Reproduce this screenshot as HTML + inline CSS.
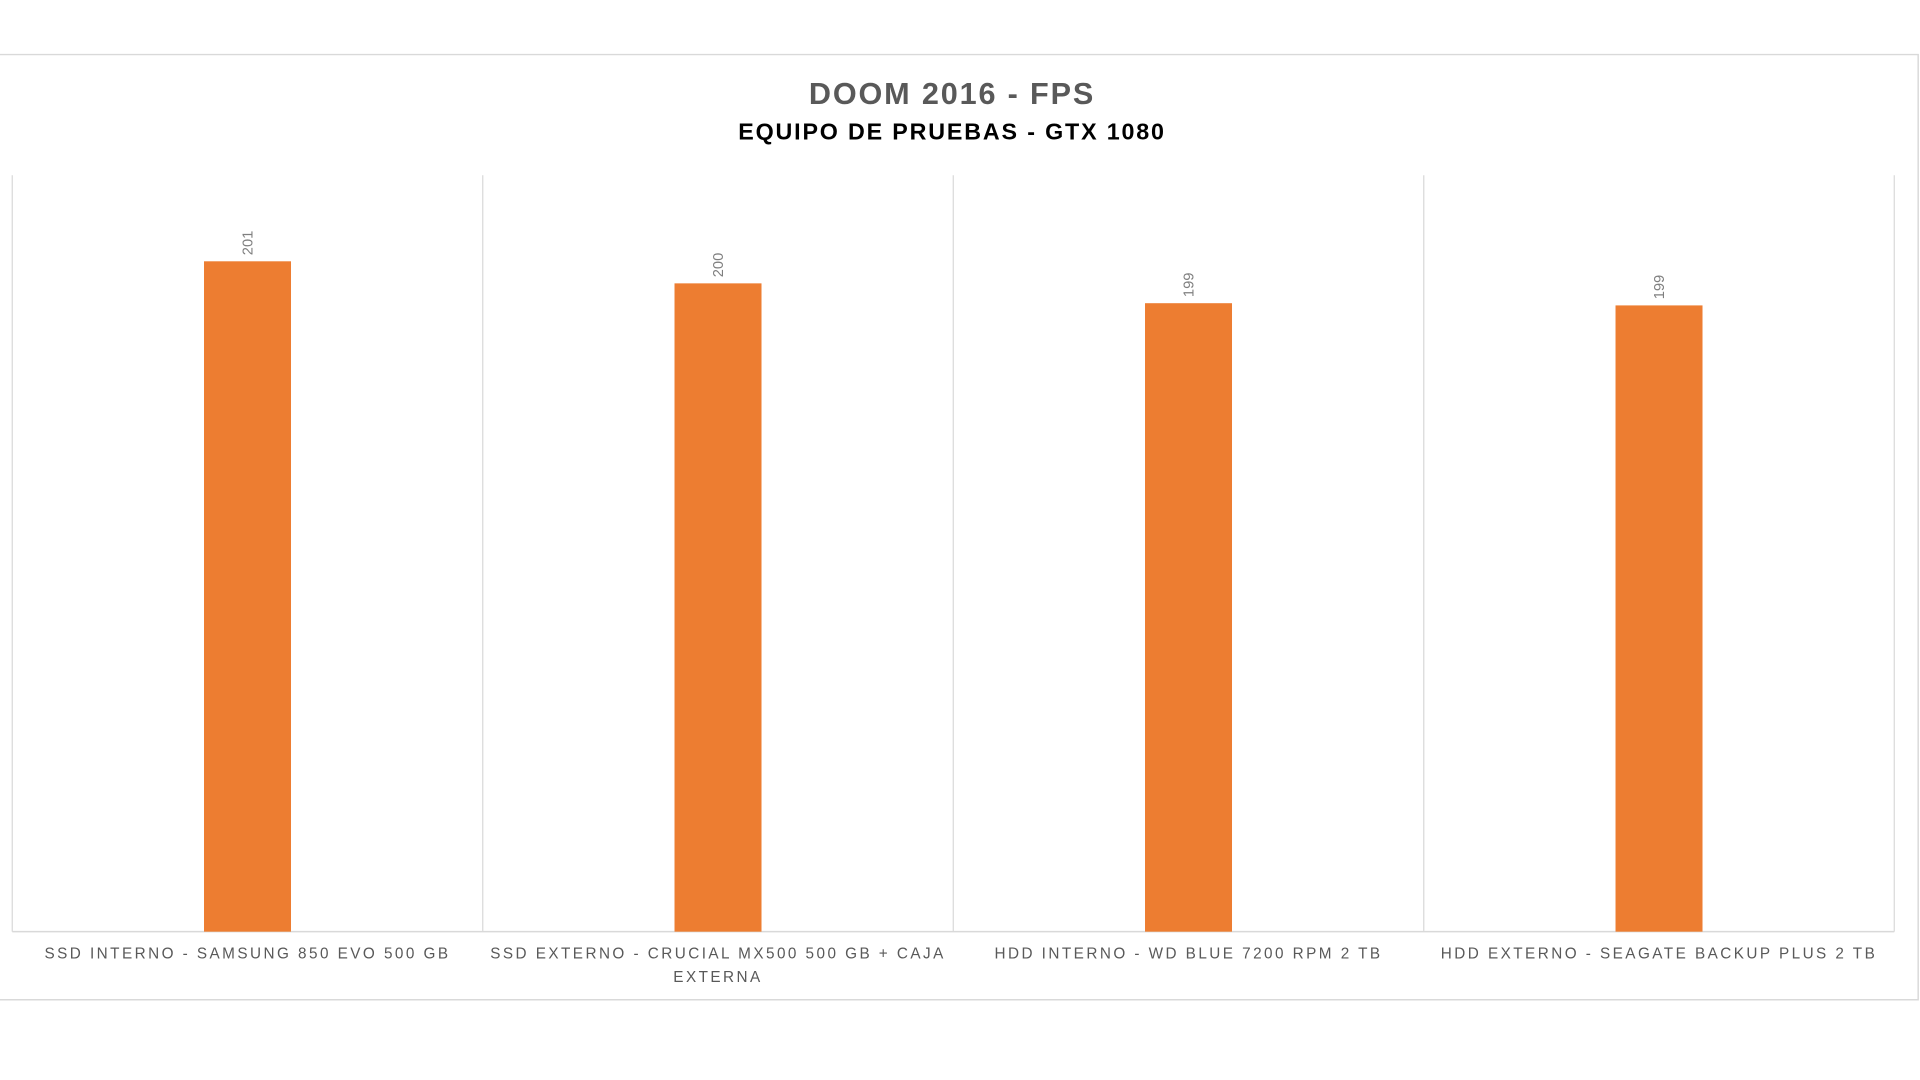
<!DOCTYPE html>
<html><head><meta charset="utf-8"><style>
html,body{margin:0;padding:0;background:#fff;width:1920px;height:1080px;overflow:hidden}
svg{display:block}
text{font-family:"Liberation Sans",sans-serif}
</style></head><body>
<svg id="chart" width="1920" height="1080" viewBox="0 0 1567 881" preserveAspectRatio="none">
<rect x="0" y="0" width="1567" height="881" fill="#fff"/>
<path d="M0 44.5H1565.5V815.5H0" fill="none" stroke="#d9d9d9" stroke-width="1.2"/>
<text x="777" y="85" text-anchor="middle" font-size="25" font-weight="bold" fill="#595959" letter-spacing="1.5">DOOM 2016 - FPS</text>
<text x="777" y="114" text-anchor="middle" font-size="19" font-weight="bold" fill="#000" letter-spacing="1.5">EQUIPO DE PRUEBAS - GTX 1080</text>
<g id="plot"></g>
</svg>
<script>
const categories = ["SSD INTERNO - SAMSUNG 850 EVO 500 GB", "SSD EXTERNO - CRUCIAL MX500 500 GB + CAJA|EXTERNA", "HDD INTERNO - WD BLUE 7200 RPM 2 TB", "HDD EXTERNO - SEAGATE BACKUP PLUS 2 TB"];
const fpsValues = [201.0, 200.0, 199.1, 199.0];
const valueLabels = ["201", "200", "199", "199"];
const yDomain = [170.6, 204.9];

const NS = "http://www.w3.org/2000/svg";
const plotG = document.getElementById("plot");
const plotLeft = 10, plotRight = 1546, plotTop = 143, plotBottom = 760;
const band = (plotRight - plotLeft) / categories.length;
const xPos = i => plotLeft + band * i + band / 2;
const yPos = v => plotBottom - (v - yDomain[0]) / (yDomain[1] - yDomain[0]) * (plotBottom - plotTop);
function mk(tag, attrs) { const e = document.createElementNS(NS, tag); for (const k in attrs) e.setAttribute(k, attrs[k]); plotG.appendChild(e); return e; }

for (let i = 0; i <= categories.length; i++) {
  const gx = plotLeft + band * i;
  const l = mk("line", {x1: gx, x2: gx, y1: plotTop, y2: plotBottom, stroke: "#d9d9d9", "stroke-width": 1});
  
  
}
const ax = mk("line", {x1: plotLeft, x2: plotRight, y1: plotBottom, y2: plotBottom, stroke: "#d9d9d9", "stroke-width": 1.2});



categories.forEach((c, i) => {
  const bw = 71;
  const b = mk("rect", {x: xPos(i) - bw / 2, y: yPos(fpsValues[i]), width: bw, height: plotBottom - yPos(fpsValues[i]), fill: "#ed7d31"});
  
  
  const ty = yPos(fpsValues[i]) - 5;
  const tx = xPos(i) + 4;
  const t = mk("text", {x: tx, y: ty, transform: "rotate(-90 " + tx + " " + ty + ")", "font-size": 12, fill: "#7f7f7f"});
  t.textContent = valueLabels[i];
  
  
  c.split("|").forEach((line, j) => {
    const cl = mk("text", {x: xPos(i), y: 782 + j * 19, "text-anchor": "middle", "font-size": 12.5, fill: "#595959", "letter-spacing": 2});
    cl.textContent = line;
    
    
  });
});
</script>
</body></html>
